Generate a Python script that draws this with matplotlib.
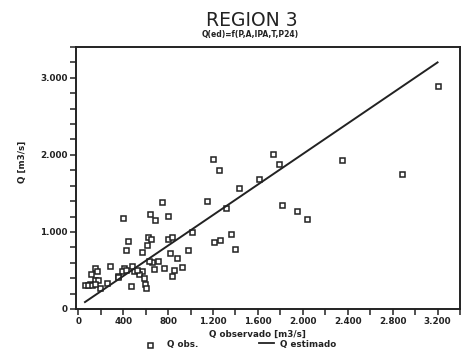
import matplotlib
matplotlib.use("Agg")
import matplotlib.pyplot as plt
from matplotlib.ticker import MultipleLocator, FuncFormatter
from matplotlib.lines import Line2D

# Observed vs estimated discharge (m3/s)
q_obs_x = [1197, 1253, 1733, 1789, 1606, 1428, 1144, 1316, 1016, 981, 927, 1212, 1265,
           1357, 1396, 1813, 1947, 2041, 2347, 2880, 3206,
           744, 400, 637, 684, 803, 447, 424, 625, 649, 613, 566, 803, 838, 877, 818,
           714, 767, 856, 833, 661, 673, 631, 566, 542, 584, 596, 607, 471, 495, 477,
           406, 388, 424, 353, 524, 287, 258, 198, 151, 163, 116, 145, 175, 104, 56,
           90, 120, 151, 358]
q_obs_y = [1944, 1806, 2014, 1879, 1689, 1571, 1406, 1306, 994, 768, 551, 872, 890,
           977, 777, 1354, 1267, 1163, 1936, 1749, 2900,
           1393, 1176, 1233, 1155, 1211, 876, 772, 937, 911, 833, 738, 907, 929, 660, 733,
           625, 538, 508, 430, 616, 517, 625, 495, 452, 400, 330, 269, 296, 495, 564,
           538, 495, 504, 426, 504, 564, 339, 269, 538, 495, 452, 382, 373, 322, 313,
           313, 313, 322, 417]
line_x = [60, 3200]
line_y = [90, 3200]

title = "REGION 3"
subtitle = "Q(ed)=f(P,A,IPA,T,P24)"

fig = plt.figure(figsize=(4.62, 3.53), dpi=100)
ax = fig.add_axes([76/462, 1-309/353, (460-76)/462, (309-47)/353])

ax.plot(q_obs_x, q_obs_y, linestyle="none", marker="s", markersize=3.6,
        markerfacecolor="white", markeredgecolor="#222222", markeredgewidth=1.1)
ax.plot(line_x, line_y, color="#222222", linewidth=1.4)

ax.set_xlim(-20, 3400)
ax.set_ylim(0, 3400)
ax.xaxis.set_major_locator(MultipleLocator(400))
ax.xaxis.set_minor_locator(MultipleLocator(200))
ax.yaxis.set_major_locator(MultipleLocator(1000))
ax.yaxis.set_minor_locator(MultipleLocator(200))

def fmt(v, pos):
    s = f"{int(round(v)):,}".replace(",", ".")
    return s
ax.xaxis.set_major_formatter(FuncFormatter(fmt))
ax.yaxis.set_major_formatter(FuncFormatter(fmt))

for a in ("x", "y"):
    ax.tick_params(axis=a, which="both", direction="out", length=4, width=1.1,
                   color="#222222", labelsize=6.3, labelcolor="#222222", pad=2)
for lab in ax.get_xticklabels() + ax.get_yticklabels():
    lab.set_fontweight("bold")
for sp in ax.spines.values():
    sp.set_linewidth(1.4)
    sp.set_color("#222222")

fig.text(252/462, 1-20/353, title, ha="center", va="center", fontsize=13.5, color="#222222")
fig.text(250/462, 1-35/353, subtitle, ha="center", va="center", fontsize=5.5,
         fontweight="bold", color="#222222")
fig.text(22/462, 1-162/353, "Q [m3/s]", rotation=90, ha="center", va="center",
         fontsize=6.3, fontweight="bold", color="#222222")
fig.text(257/462, 1-334/353, "Q observado [m3/s]", ha="center", va="center",
         fontsize=6.3, fontweight="bold", color="#222222")

# legend
fig.add_artist(Line2D([150/462], [1-345/353], marker="s", markersize=3.6, linestyle="none",
                      markerfacecolor="white", markeredgecolor="#222222", markeredgewidth=1.1,
                      transform=fig.transFigure))
fig.text(167/462, 1-345/353, "Q obs.", ha="left", va="center", fontsize=6.3,
         fontweight="bold", color="#222222")
fig.add_artist(Line2D([259/462, 274/462], [1-343/353, 1-343/353], color="#222222",
                      linewidth=1.3, transform=fig.transFigure))
fig.text(280/462, 1-345/353, "Q estimado", ha="left", va="center", fontsize=6.3,
         fontweight="bold", color="#222222")

fig.savefig("out.png", dpi=100)
